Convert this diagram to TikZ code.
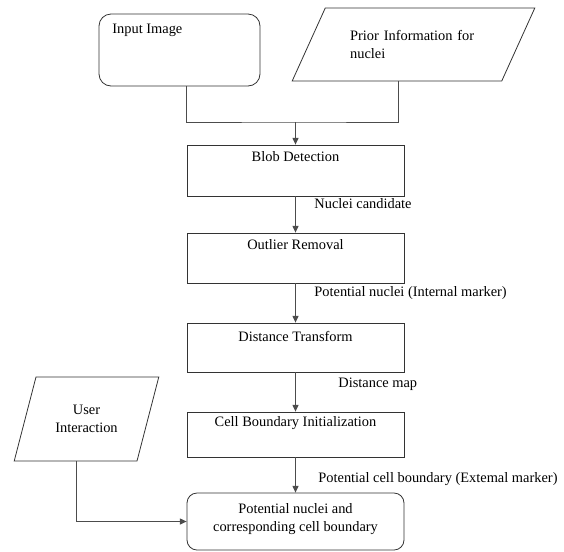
\documentclass[tikz,border=0pt]{standalone}
\usepackage{fontspec}
\setmainfont{Liberation Serif}
\usetikzlibrary{shapes.geometric,arrows.meta}
\tikzset{
  procbox/.style={draw=black!80, minimum width=162.75pt, inner sep=0pt},
  iobox/.style={draw=black!80, trapezium, trapezium stretches=true, inner sep=0pt},
  txt/.style={inner sep=0pt},
  flow/.style={draw=black!70, line width=0.7pt},
  >={Triangle[length=5pt,width=4.5pt]}
}
\begin{document}
\begin{tikzpicture}[x=0.75pt,y=-0.75pt,font=\fontsize{10.8}{13.5}\selectfont,line width=0.6pt]
  \useasboundingbox (0,0) rectangle (564,551);
  % Inputs
  \node[draw=black!80, rounded corners=9pt, minimum width=120.75pt, minimum height=54pt] (input) at (179.5,50) {};
  \node[txt, anchor=west] (inputtext) at (112,30) {Input Image};
  \node[iobox, trapezium left angle=50, trapezium right angle=130, minimum width=182.25pt, minimum height=54.75pt,
        text width=95pt, align=left] (prior) at (413.5,44.5) {Prior Information for\\nuclei};
  \node[iobox, trapezium left angle=64, trapezium right angle=116, minimum width=108.75pt, minimum height=63pt,
        align=center] (user) at (86.5,419) {User\\Interaction};
  % Processing steps
  \node[procbox, minimum height=38.25pt] (blob) at (295.5,170.5) {};
  \node[txt] (blobtext) at (295.5,157) {Blob Detection};
  \node[procbox, minimum height=37.5pt] (outlier) at (295.5,258) {};
  \node[txt] (outliertext) at (295.5,245) {Outlier Removal};
  \node[procbox, minimum height=36.75pt] (dist) at (295.5,347.5) {};
  \node[txt] (disttext) at (295.5,336) {Distance Transform};
  \node[procbox, minimum height=33.75pt] (cellinit) at (295.5,434.5) {};
  \node[txt] (cellinittext) at (295.5,423) {Cell Boundary Initialization};
  % Result
  \node[procbox, rounded corners=7.5pt, minimum height=42.75pt] (result) at (295.5,521.5) {};
  \node[txt, align=center] (resulttext) at (295.5,519) {Potential nuclei and\\corresponding cell boundary};
  % Labels on the flow
  \node[txt, anchor=west] (candlabel) at (314,204) {Nuclei candidate};
  \node[txt, anchor=west] (internlabel) at (314,293) {Potential nuclei (Internal marker)};
  \node[txt, anchor=west] (maplabel) at (338,384) {Distance map};
  \node[txt, anchor=west] (externlabel) at (318,479) {Potential cell boundary (Extemal marker)};
  % Connectors
  \coordinate (merge) at (295.5,122);
  \coordinate (priorfoot) at (398,81);
  \coordinate (userfoot) at (76,461);
  \draw[flow] (input.south -| blob.west) |- (merge) -| (priorfoot);
  \draw[flow,->] (merge) -- (blob.north);
  \draw[flow,->] (blob) -- (outlier);
  \draw[flow,->] (outlier) -- (dist);
  \draw[flow,->] (dist) -- (cellinit);
  \draw[flow,->] (cellinit) -- (result);
  \draw[flow,->] (userfoot) |- (result.west);
\end{tikzpicture}
\end{document}
